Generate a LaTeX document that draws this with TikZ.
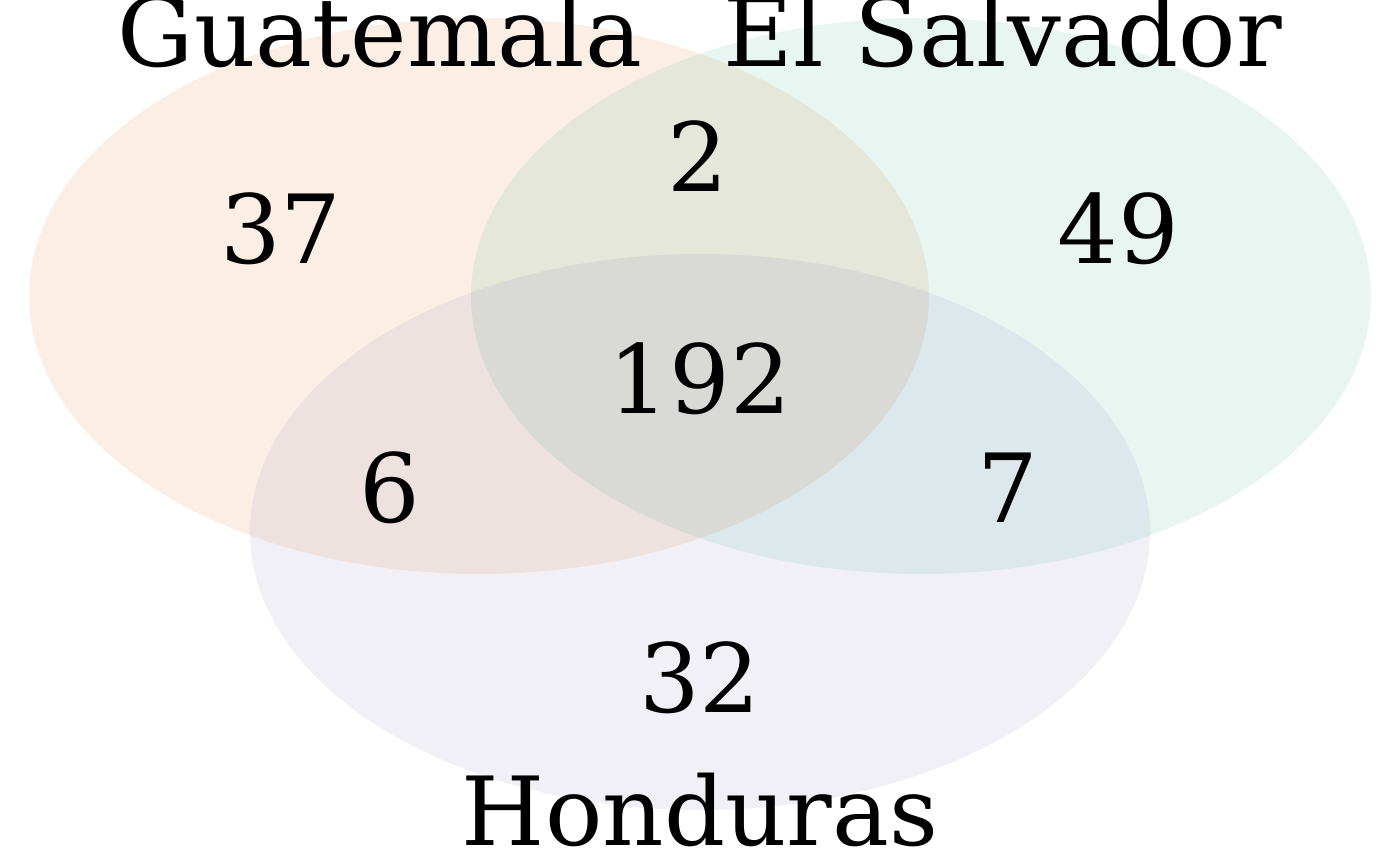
\documentclass[tikz,border=0pt]{standalone}
\usepackage{fontspec}
\setmainfont{DejaVu Serif}
\definecolor{gua}{HTML}{D95F02}
\definecolor{sal}{HTML}{1B9E77}
\definecolor{hon}{HTML}{7570B3}
\begin{document}
\begin{tikzpicture}[x=0.5pt,y=-0.5pt,
  setfill/.style={fill opacity=0.1,draw=none},
  lab/.style={anchor=base,inner sep=0pt,font=\fontsize{47.7}{54}\selectfont}]
\useasboundingbox (0,0) rectangle (1400,865);
\fill[gua,setfill] (479,296) ellipse [x radius=450,y radius=278];
\fill[sal,setfill] (921,296) ellipse [x radius=450,y radius=278];
\fill[hon,setfill] (700,532) ellipse [x radius=450,y radius=278];
\node[lab] (tg) at (380,67) {Guatemala};
\node[lab] (ts) at (1003,67) {El Salvador};
\node[lab] (th) at (700,845) {Honduras};
\node[lab] (n37) at (281,264) {37};
\node[lab] (n2) at (698,192) {2};
\node[lab] (n49) at (1118,264) {49};
\node[lab] (n192) at (700,414) {192};
\node[lab] (n6) at (390,522) {6};
\node[lab] (n7) at (1008,522) {7};
\node[lab] (n32) at (700,712) {32};
\end{tikzpicture}
\end{document}
